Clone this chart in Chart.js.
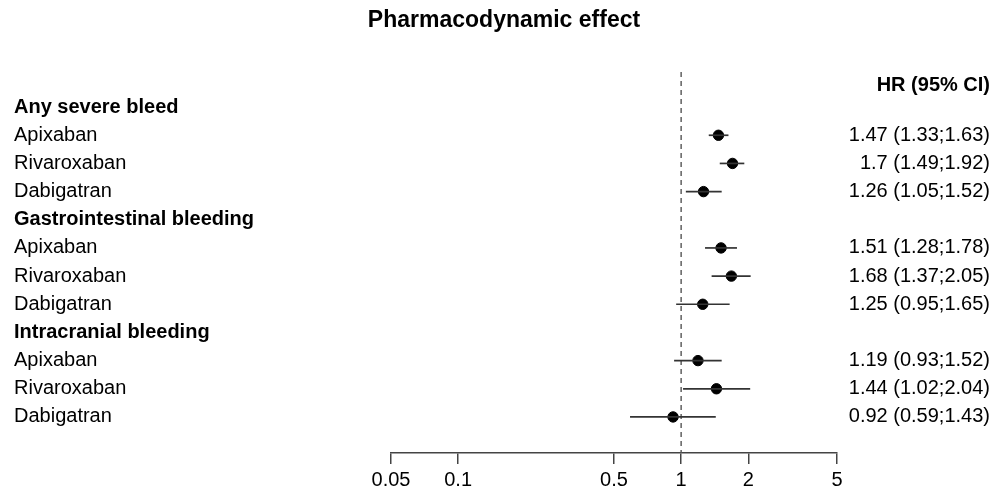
<!DOCTYPE html>
<html>
<head>
<meta charset="utf-8">
<script src="https://cdn.jsdelivr.net/npm/chart.js@4"></script>
<style>
  html, body { margin: 0; padding: 0; background: #fff; }
  #wrap { width: 1005px; height: 495px; position: relative; }
</style>
</head>
<body>
<div id="wrap"><canvas id="forest"></canvas></div>
<script>
// Data
const groups = ["Any severe bleed", "Gastrointestinal bleeding", "Intracranial bleeding"]
const drugs = ["Apixaban", "Rivaroxaban", "Dabigatran"]
const hr = [1.47, 1.7, 1.26, 1.51, 1.68, 1.25, 1.19, 1.44, 0.92]
const lower = [1.33, 1.49, 1.05, 1.28, 1.37, 0.95, 0.93, 1.02, 0.59]
const upper = [1.63, 1.92, 1.52, 1.78, 2.05, 1.65, 1.52, 2.04, 1.43]
const xTicks = [0.05, 0.1, 0.5, 1, 2, 5]

const FONT = "'Liberation Sans', Arial, Helvetica, sans-serif"

// row index of each estimate (group header takes one row)
const rowOf = (i) => Math.floor(i / 3) * 4 + (i % 3) + 1

// Whisker datasets, one short line per estimate
const whiskers = hr.map((_, i) => ({
  type: "line",
  data: [{ x: lower[i], y: rowOf(i) }, { x: upper[i], y: rowOf(i) }],
  borderColor: "#333",
  borderWidth: 1.7,
  pointRadius: 0,
  fill: false,
}))

const points = {
  type: "scatter",
  data: hr.map((v, i) => ({ x: v, y: rowOf(i) })),
  backgroundColor: "#000",
  borderColor: "#000",
  pointRadius: 5.2,
  pointHoverRadius: 5.2,
}

// Texts, reference line, title
const forestText = {
  id: "forestText",
  beforeDatasetsDraw(chart) {
    const { ctx, chartArea, scales } = chart
    const x1 = scales.x.getPixelForValue(1)
    ctx.save()
    ctx.strokeStyle = "#555"
    ctx.lineWidth = 1.4
    ctx.setLineDash([5, 4])
    ctx.beginPath()
    ctx.moveTo(x1, chartArea.top)
    ctx.lineTo(x1, chartArea.bottom)
    ctx.stroke()
    ctx.restore()
  },
  afterDraw(chart) {
    const { ctx, scales } = chart
    const y = scales.y
    ctx.save()
    ctx.fillStyle = "#000"
    ctx.textBaseline = "middle"

    ctx.textAlign = "center"
    ctx.font = "bold 23px " + FONT
    ctx.fillText("Pharmacodynamic effect", 504, 21)

    ctx.textAlign = "right"
    ctx.font = "bold 20px " + FONT
    ctx.fillText("HR (95% CI)", 990, y.getPixelForValue(-0.78))

    groups.forEach((g, gi) => {
      ctx.textAlign = "left"
      ctx.font = "bold 20px " + FONT
      ctx.fillText(g, 14, y.getPixelForValue(gi * 4))
    })
    hr.forEach((v, i) => {
      const py = y.getPixelForValue(rowOf(i))
      ctx.font = "20px " + FONT
      ctx.textAlign = "left"
      ctx.fillText(drugs[i % 3], 14, py)
      ctx.textAlign = "right"
      ctx.fillText(`${v} (${lower[i]};${upper[i]})`, 990, py)
    })
    ctx.restore()
  },
}

new Chart(document.getElementById("forest"), {
  type: "scatter",
  data: { datasets: [...whiskers, points] },
  options: {
    responsive: true,
    maintainAspectRatio: false,
    animation: false,
    events: [],
    layout: { padding: { left: 391, right: 168, top: 72, bottom: -1 } },
    scales: {
      x: {
        type: "logarithmic",
        min: 0.05,
        max: 5,
        afterBuildTicks: (scale) => {
          scale.ticks = xTicks.map((v) => ({ value: v }))
        },
        ticks: {
          autoSkip: false,
          maxRotation: 0,
          color: "#000",
          padding: 4,
          font: { family: FONT, size: 20 },
          callback: (v) => String(v),
        },
        grid: {
          drawOnChartArea: false,
          drawTicks: true,
          tickLength: 11,
          color: "#444",
          lineWidth: 1.5,
        },
        border: { display: true, color: "#444", width: 1.5 },
      },
      y: {
        type: "linear",
        display: false,
        reverse: true,
        min: -1.246,
        max: 12.28,
      },
    },
    plugins: {
      legend: { display: false },
      tooltip: { enabled: false },
      title: { display: false },
    },
  },
  plugins: [forestText],
})
</script>
</body>
</html>
